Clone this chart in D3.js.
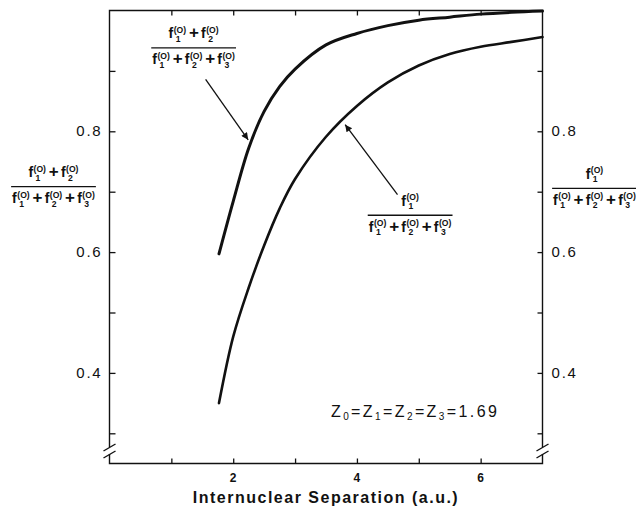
<!DOCTYPE html>
<html>
<head>
<meta charset="utf-8">
<script src="https://cdn.jsdelivr.net/npm/d3@7"></script>
<style>
  html, body { margin: 0; padding: 0; background: #fff; }
  svg { display: block; font-family: "Liberation Sans", Arial, Helvetica, sans-serif; }
</style>
</head>
<body>
<svg id="chart" width="636" height="514"></svg>
<script>
// Internuclear separation (a.u.) at which the two population ratios are given
const separation = [1.77, 2.0, 2.25, 2.5, 2.75, 3.0, 3.5, 4.0, 4.5, 5.0, 5.5, 6.0, 6.5, 7.0];
// (f1 + f2) / (f1 + f2 + f3)
const ratioF1F2 = [0.597, 0.684, 0.772, 0.833, 0.874, 0.903, 0.943, 0.962, 0.975, 0.984, 0.989, 0.994, 0.997, 0.999];
// f1 / (f1 + f2 + f3)
const ratioF1 = [0.350, 0.460, 0.541, 0.611, 0.672, 0.721, 0.791, 0.842, 0.881, 0.909, 0.928, 0.940, 0.948, 0.956];

const xTickValues = [1, 2, 3, 4, 5, 6];
const xTickLabels = [2, 4, 6];
const yTickValues = [0.3, 0.4, 0.5, 0.6, 0.7, 0.8, 0.9];
const yTickLabels = [0.4, 0.6, 0.8];
const xTitle = "Internuclear Separation (a.u.)";
const paramText = ["Z", "0", "=Z", "1", "=Z", "2", "=Z", "3", "=1.69"];

const svg = d3.select("#chart");
const plotLeft = 109.5, plotRight = 542.5, plotTop = 10.5, plotBottom = 463.5;

const x = d3.scaleLinear().domain([0, 7]).range([plotLeft, plotRight]);
const y = d3.scaleLinear().domain([0.25, 1.0]).range([plotBottom, plotTop]);

const ink = "#111";

// Frame with axis breaks near the bottom of both vertical axes
const breakTop = 447, breakBot = 454;
const frame = svg.append("g").attr("fill", "none").attr("stroke", ink).attr("stroke-width", 1.4);
frame.append("path").attr("d", `M${plotLeft},${breakTop} V${plotTop} H${plotRight} V${breakTop}`);
frame.append("path").attr("d", `M${plotLeft},${breakBot} V${plotBottom} H${plotRight} V${breakBot}`);
[plotLeft, plotRight].forEach(ax => {
  frame.append("line").attr("x1", ax - 6).attr("y1", breakTop + 4).attr("x2", ax + 6).attr("y2", breakTop - 3);
  frame.append("line").attr("x1", ax - 6).attr("y1", breakBot + 4).attr("x2", ax + 6).attr("y2", breakBot - 3);
});

// Tick marks (all pointing inward) built from D3 axes
function styleAxis(g) {
  g.select(".domain").remove();
  g.selectAll(".tick line").attr("stroke", ink).attr("stroke-width", 1.3);
}
svg.append("g").attr("transform", `translate(0,${plotBottom})`)
  .call(d3.axisBottom(x).tickValues(xTickValues).tickSize(-5).tickFormat(""))
  .call(styleAxis);
svg.append("g").attr("transform", `translate(0,${plotTop})`)
  .call(d3.axisTop(x).tickValues(xTickValues).tickSize(-5).tickFormat(""))
  .call(styleAxis);
svg.append("g").attr("transform", `translate(${plotLeft},0)`)
  .call(d3.axisLeft(y).tickValues(yTickValues).tickSize(-6).tickFormat(""))
  .call(styleAxis);
svg.append("g").attr("transform", `translate(${plotRight},0)`)
  .call(d3.axisRight(y).tickValues(yTickValues).tickSize(-5).tickFormat(""))
  .call(styleAxis);

// Tick labels
const fmt = d3.format(".1f");
svg.append("g").selectAll("text").data(xTickLabels).join("text")
  .attr("x", d => x(d)).attr("y", plotBottom + 18)
  .attr("text-anchor", "middle").attr("font-size", 12).attr("font-weight", "bold").attr("fill", ink)
  .text(d => d);
svg.append("g").selectAll("text").data(yTickLabels).join("text")
  .attr("x", plotLeft - 7).attr("y", d => y(d) + 5)
  .attr("text-anchor", "end").attr("font-size", 15).attr("letter-spacing", 1.8).attr("fill", ink)
  .text(d => fmt(d));
svg.append("g").selectAll("text").data(yTickLabels).join("text")
  .attr("x", plotRight + 9).attr("y", d => y(d) + 5)
  .attr("font-size", 15).attr("letter-spacing", 1.8).attr("fill", ink)
  .text(d => fmt(d));

// Axis title
svg.append("text").attr("x", (plotLeft + plotRight) / 2).attr("y", 503)
  .attr("text-anchor", "middle").attr("font-size", 16).attr("font-weight", "bold")
  .attr("letter-spacing", 1.5).attr("fill", ink).text(xTitle);

// Curves
const line = d3.line().x(d => x(d[0])).y(d => y(d[1])).curve(d3.curveCatmullRom.alpha(0.5));
svg.append("path").datum(d3.zip(separation, ratioF1F2))
  .attr("d", line).attr("fill", "none").attr("stroke", ink).attr("stroke-width", 3).attr("stroke-linecap", "round");
svg.append("path").datum(d3.zip(separation, ratioF1))
  .attr("d", line).attr("fill", "none").attr("stroke", ink).attr("stroke-width", 2.6).attr("stroke-linecap", "round");

// Fraction labels of the form  (f_a + f_b) / (f_1 + f_2 + f_3); each row is one text element
const F_SIZE = 14, SCRIPT_SIZE = 8.6, PLUS_SIZE = 17;
function measure(str, size) {
  const t = svg.append("text").attr("font-size", size).attr("font-weight", "bold").text(str);
  const w = t.node().getComputedTextLength();
  t.remove();
  return w;
}
const wSup = measure("(O)", SCRIPT_SIZE);
function drawSum(parent, baseline, indices) {
  const t = parent.append("text").attr("x", 0).attr("y", baseline).attr("font-weight", "bold");
  indices.forEach((idx, i) => {
    if (i > 0) {
      const wSub = measure(idx, SCRIPT_SIZE);
      t.append("tspan").attr("font-size", PLUS_SIZE).attr("dx", wSup - 2 - wSub + 2.8).attr("dy", -3.6).text("+");
      t.append("tspan").attr("font-size", F_SIZE).attr("dx", 2.2).attr("dy", 0).text("f");
    } else {
      t.append("tspan").attr("font-size", F_SIZE).text("f");
    }
    t.append("tspan").attr("font-size", SCRIPT_SIZE).attr("dx", 0.5).attr("dy", -5.4).text("(O)");
    t.append("tspan").attr("font-size", SCRIPT_SIZE).attr("dx", -wSup + 2).attr("dy", 9).text(idx);
  });
  return t;
}
function fraction(cx, lineY, numIdx, denIdx) {
  const g = svg.append("g").attr("fill", ink);
  const num = drawSum(g, lineY - 9.5, numIdx);
  const den = drawSum(g, lineY + 16.5, denIdx);
  const bn = num.node().getBBox(), bd = den.node().getBBox();
  num.attr("x", cx - bn.width / 2 - bn.x);
  den.attr("x", cx - bd.width / 2 - bd.x);
  const w = Math.max(bn.width, bd.width) + 2;
  g.append("line").attr("x1", cx - w / 2).attr("x2", cx + w / 2)
    .attr("y1", lineY).attr("y2", lineY).attr("stroke", ink).attr("stroke-width", 1.3);
}

// Upper-curve label inside the plot, and its copy on the left axis
fraction(x(1.36), y(0.938), ["1", "2"], ["1", "2", "3"]);
fraction(53.5, 186.7, ["1", "2"], ["1", "2", "3"]);
// Lower-curve label inside the plot, and its copy on the right axis
fraction(x(4.86), y(0.661), ["1"], ["1", "2", "3"]);
fraction(594.5, 188.3, ["1"], ["1", "2", "3"]);

// Arrows pointing from labels to curves
const defs = svg.append("defs");
defs.append("marker").attr("id", "head").attr("viewBox", "0 0 10 10")
  .attr("refX", 10).attr("refY", 5).attr("markerWidth", 10).attr("markerHeight", 7)
  .attr("markerUnits", "userSpaceOnUse").attr("orient", "auto")
  .append("path").attr("d", "M0,0 L10,5 L0,10 Z").attr("fill", ink);
const arrows = [
  { from: [1.554, 0.886], to: [2.242, 0.786] },
  { from: [4.656, 0.695], to: [3.81, 0.811] }
];
svg.append("g").selectAll("line").data(arrows).join("line")
  .attr("x1", d => x(d.from[0])).attr("y1", d => y(d.from[1]))
  .attr("x2", d => x(d.to[0])).attr("y2", d => y(d.to[1]))
  .attr("stroke", ink).attr("stroke-width", 1.3).attr("marker-end", "url(#head)");

// Screening parameters
const zt = svg.append("text").attr("x", x(3.58)).attr("y", y(0.327))
  .attr("font-size", 16).attr("letter-spacing", 2.4).attr("fill", ink);
paramText.forEach((s, i) => {
  const isSub = i % 2 === 1;
  zt.append("tspan").attr("font-size", isSub ? 10 : 16)
    .attr("dy", isSub ? 3 : (i === 0 ? 0 : -3)).text(s);
});
</script>
</body>
</html>
